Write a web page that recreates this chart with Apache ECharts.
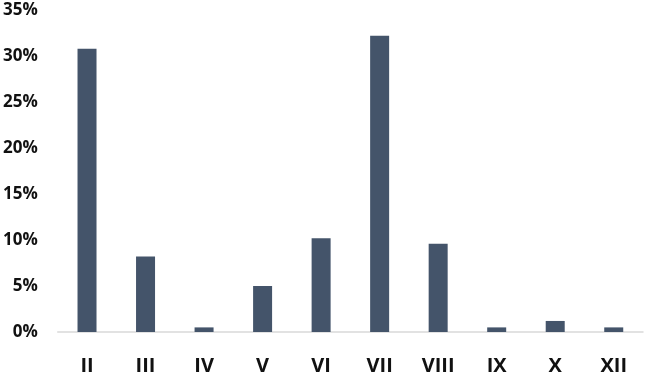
<!DOCTYPE html>
<html>
<head>
<meta charset="utf-8">
<script src="https://cdn.jsdelivr.net/npm/echarts@6/dist/echarts.min.js"></script>
<style>html,body{margin:0;padding:0;background:#fff}#c{width:645px;height:378px}</style>
</head>
<body>
<div id="c"></div>
<script>
var categories = ['II','III','IV','V','VI','VII','VIII','IX','X','XII'];
var values = [30.8, 8.2, 0.5, 5.0, 10.2, 32.2, 9.6, 0.5, 1.2, 0.5];

var chart = echarts.init(document.getElementById('c'), null, {renderer:'canvas'});
chart.setOption({
  animation: false,
  grid: {left: 57, right: 2, top: 10, bottom: 46, containLabel: false},
  xAxis: {
    type: 'category',
    data: categories,
    axisLine: {lineStyle: {color: '#d9d9d9', width: 1.5}},
    axisTick: {show: false},
    axisLabel: {color: '#111', fontSize: 20, fontWeight: 'bold', fontFamily: 'Open Sans', margin: 24}
  },
  yAxis: {
    type: 'value',
    min: 0, max: 35, interval: 5,
    splitLine: {show: false},
    axisLine: {show: false},
    axisTick: {show: false},
    axisLabel: {color: '#111', fontSize: 17, fontWeight: 'bold', fontFamily: 'Open Sans', margin: 20,
      formatter: function(v){ return v + '%'; }}
  },
  series: [{
    type: 'bar',
    data: values,
    barWidth: 19,
    itemStyle: {color: '#44546a'}
  }]
});
</script>
</body>
</html>
